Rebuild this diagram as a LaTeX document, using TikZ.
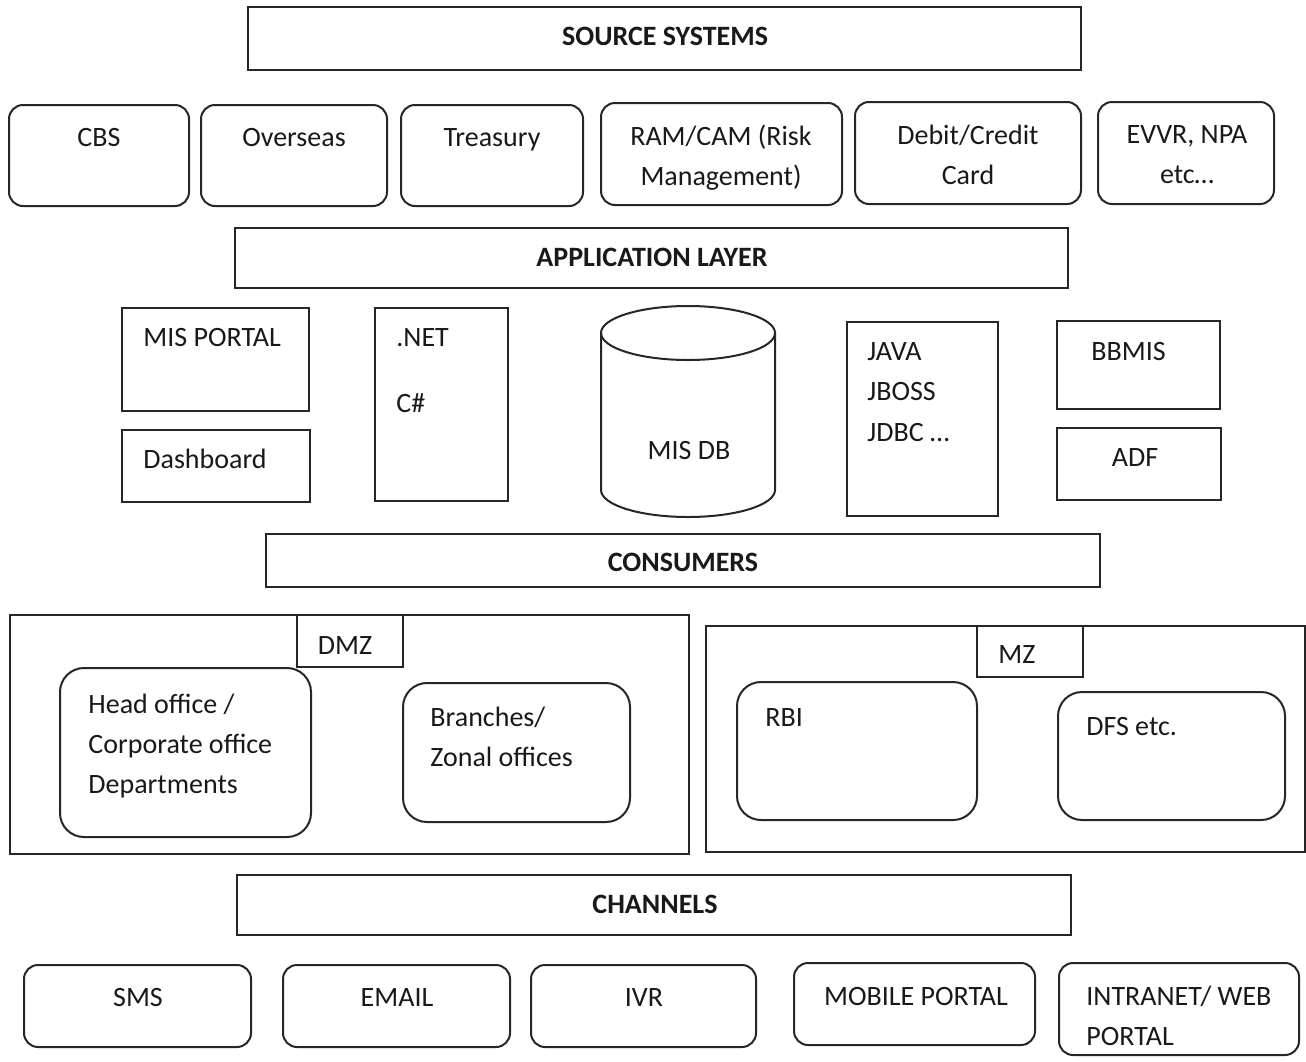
\documentclass[tikz,border=0pt]{standalone}
\usepackage{fontspec}
\setmainfont{Carlito}
\tikzset{
  x=0.5pt, y=-0.5pt,
  frame/.style={draw=black!85, line width=1pt, inner sep=0pt, outer sep=0pt},
  rbox/.style={frame, rounded corners=7pt},
  rbig/.style={frame, rounded corners=12pt},
  txt/.style={inner sep=0pt, font=\fontsize{14pt}{20pt}\selectfont, text=black!90},
  ttl/.style={txt, font=\fontsize{14pt}{20pt}\selectfont\bfseries},
}
\newcommand\mkbox[6]{%
  \node[#1, minimum width={(#5-#3)*0.5pt}, minimum height={(#6-#4)*0.5pt}] (#2) at ({(#3+#5)/2},{(#4+#6)/2}) {};}
\begin{document}
\begin{tikzpicture}
\fill[white] (0,0) rectangle (1306,1061);
\useasboundingbox (0,0) rectangle (1306,1061);
% source systems
\mkbox{frame}{src}{248}{7}{1081}{70}
\node[ttl, anchor=base] (t-src) at (665,45) {SOURCE SYSTEMS};
\mkbox{rbox}{cbs}{9}{105}{189}{206}
\mkbox{rbox}{ovs}{201}{105}{387}{206}
\mkbox{rbox}{trs}{401}{105}{583}{206}
\mkbox{rbox}{ram}{601}{103}{842}{205}
\mkbox{rbox}{dcc}{855}{102}{1081}{204}
\mkbox{rbox}{evvr}{1098}{102}{1274}{204}
\node[txt, anchor=base] (t-cbs) at (99,146) {CBS};
\node[txt, anchor=base] (t-ovs) at (294,146) {Overseas};
\node[txt, anchor=base] (t-trs) at (492,146) {Treasury};
\node[txt, anchor=base] (t-ram1) at (721,145) {RAM/CAM (Risk};
\node[txt, anchor=base] (t-ram2) at (721,185) {Management)};
\node[txt, anchor=base] (t-dcc1) at (968,144) {Debit/Credit};
\node[txt, anchor=base] (t-dcc2) at (968,184) {Card};
\node[txt, anchor=base] (t-evvr1) at (1187,143) {EVVR, NPA};
\node[txt, anchor=base] (t-evvr2) at (1187,183) {etc…};
% application layer
\mkbox{frame}{app}{235}{228}{1068}{288}
\node[ttl, anchor=base] (t-app) at (652,266) {APPLICATION LAYER};
\mkbox{frame}{misp}{122}{308}{309}{411}
\mkbox{frame}{dash}{122}{430}{310}{502}
\mkbox{frame}{net}{375}{308}{508}{501}
\mkbox{frame}{java}{847}{322}{998}{516}
\mkbox{frame}{bbmis}{1057}{321}{1220}{409}
\mkbox{frame}{adf}{1057}{428}{1221}{500}
\node[txt, anchor=base west] (t-misp) at (143,346) {MIS PORTAL};
\node[txt, anchor=base west] (t-dash) at (143,468) {Dashboard};
\node[txt, anchor=base west] (t-net) at (396,346) {.NET};
\node[txt, anchor=base west] (t-cs) at (396,412) {C\#};
\node[txt, anchor=base west] (t-java) at (867,360) {JAVA};
\node[txt, anchor=base west] (t-jboss) at (867,400) {JBOSS};
\node[txt, anchor=base west] (t-jdbc) at (867,441) {JDBC …};
\node[txt, anchor=base west] (t-bbmis) at (1091,360) {BBMIS};
\node[txt, anchor=base] (t-adf) at (1135,466) {ADF};
% MIS DB cylinder
\draw[draw=black!85, line width=1pt] (601,333) -- (601,490)
  arc[start angle=180, end angle=360, x radius=43.5pt, y radius=13.5pt] -- (775,333);
\draw[draw=black!85, line width=1pt] (688,333) ellipse[x radius=43.5pt, y radius=13.5pt];
\node[txt, anchor=base] (misdb) at (689,459) {MIS DB};
% consumers
\mkbox{frame}{cons}{266}{534}{1100}{587}
\node[ttl, anchor=base] (t-cons) at (683,571) {CONSUMERS};
\mkbox{frame}{dmzarea}{10}{615}{689}{854}
\mkbox{frame}{dmz}{297}{615}{403}{667}
\node[txt, anchor=base] (t-dmz) at (345,654) {DMZ};
\mkbox{rbig}{head}{60}{668}{311}{837}
\node[txt, anchor=base west] (t-head1) at (88,713) {Head office /};
\node[txt, anchor=base west] (t-head2) at (88,753) {Corporate office};
\node[txt, anchor=base west] (t-head3) at (88,793) {Departments};
\mkbox{rbig}{branch}{403}{683}{630}{822}
\node[txt, anchor=base west] (t-br1) at (430,726) {Branches/};
\node[txt, anchor=base west] (t-br2) at (430,766) {Zonal offices};
\mkbox{frame}{mzarea}{706}{626}{1305}{852}
\mkbox{frame}{mz}{977}{626}{1083}{677}
\node[txt, anchor=base] (t-mz) at (1017,663) {MZ};
\mkbox{rbig}{rbi}{737}{682}{977}{820}
\node[txt, anchor=base west] (t-rbi) at (765,726) {RBI};
\mkbox{rbig}{dfs}{1058}{692}{1285}{820}
\node[txt, anchor=base west] (t-dfs) at (1086,735) {DFS etc.};
% channels
\mkbox{frame}{chan}{237}{875}{1071}{935}
\node[ttl, anchor=base] (t-chan) at (655,913) {CHANNELS};
\mkbox{rbox}{sms}{24}{965}{251}{1047}
\mkbox{rbox}{email}{283}{965}{510}{1047}
\mkbox{rbox}{ivr}{531}{965}{756}{1047}
\mkbox{rbox}{mob}{794}{963}{1035}{1045}
\mkbox{rbox}{intra}{1059}{963}{1299}{1055}
\node[txt, anchor=base] (t-sms) at (138,1006) {SMS};
\node[txt, anchor=base] (t-email) at (397,1006) {EMAIL};
\node[txt, anchor=base] (t-ivr) at (644,1006) {IVR};
\node[txt, anchor=base] (t-mob) at (916,1005) {MOBILE PORTAL};
\node[txt, anchor=base west] (t-intra1) at (1086,1005) {INTRANET/ WEB};
\node[txt, anchor=base west] (t-intra2) at (1086,1045) {PORTAL};
\end{tikzpicture}
\end{document}
